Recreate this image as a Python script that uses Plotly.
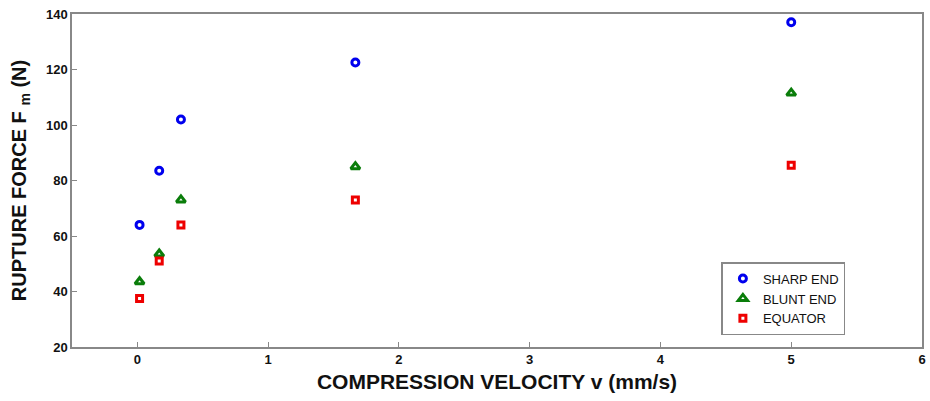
import plotly.graph_objects as go

velocity = [0.0167, 0.167, 0.333, 1.667, 5.0]
sharp_end = [64, 83.5, 102, 122.5, 137]
blunt_end = [43.5, 53.5, 73, 85, 111.5]
equator = [37.5, 51, 64, 73, 85.5]

x_ticks = [0, 1, 2, 3, 4, 5, 6]
y_ticks = [20, 40, 60, 80, 100, 120, 140]

FONT = "Liberation Sans, Arial, sans-serif"

fig = go.Figure()
fig.add_trace(go.Scatter(x=velocity, y=sharp_end, mode="markers", name="SHARP END",
                         marker=dict(symbol="circle-open", size=7, color="#0000ee",
                                     line=dict(width=3, color="#0000ee"))))
fig.add_trace(go.Scatter(x=velocity, y=blunt_end, mode="markers", name="BLUNT END",
                         marker=dict(symbol="triangle-up-open", size=8, color="#0a7d0a",
                                     line=dict(width=3, color="#0a7d0a"))))
fig.add_trace(go.Scatter(x=velocity, y=equator, mode="markers", name="EQUATOR",
                         marker=dict(symbol="square-open", size=6, color="#ee0000",
                                     line=dict(width=3, color="#ee0000"))))

axis_common = dict(showline=True, linecolor="#888888", linewidth=1.5, mirror=True,
                   ticks="inside", ticklen=5, tickcolor="#888888", tickwidth=1,
                   showgrid=False, zeroline=False, automargin=False,
                   tickfont=dict(family=FONT, size=13, color="#111111", weight="bold"))

fig.update_xaxes(range=[-0.5, 6.0001], tickvals=x_ticks,
                 title=dict(text="<b>COMPRESSION VELOCITY v (mm/s)</b>", standoff=8,
                            font=dict(family=FONT, size=21, color="#111111")),
                 **axis_common)
fig.update_yaxes(range=[20, 140], tickvals=y_ticks,
                 title=dict(text="<b>RUPTURE FORCE F <sub style='font-size:17px'>m</sub> (N)</b>",
                            standoff=14,
                            font=dict(family=FONT, size=20, color="#111111")),
                 **axis_common)

fig.update_layout(
    width=930, height=401,
    margin=dict(l=72, r=8, t=14, b=54),
    paper_bgcolor="white", plot_bgcolor="white",
    showlegend=True,
    legend=dict(x=0.764, y=0.255, xanchor="left", yanchor="top",
                bordercolor="#888888", borderwidth=1.5, bgcolor="white",
                font=dict(family=FONT, size=13, color="#111111"),
                tracegroupgap=0, itemwidth=30),
)

fig.write_html("out.html", config={"displayModeBar": False},
               post_script="document.body.style.margin='0';document.body.style.overflow='hidden';")
